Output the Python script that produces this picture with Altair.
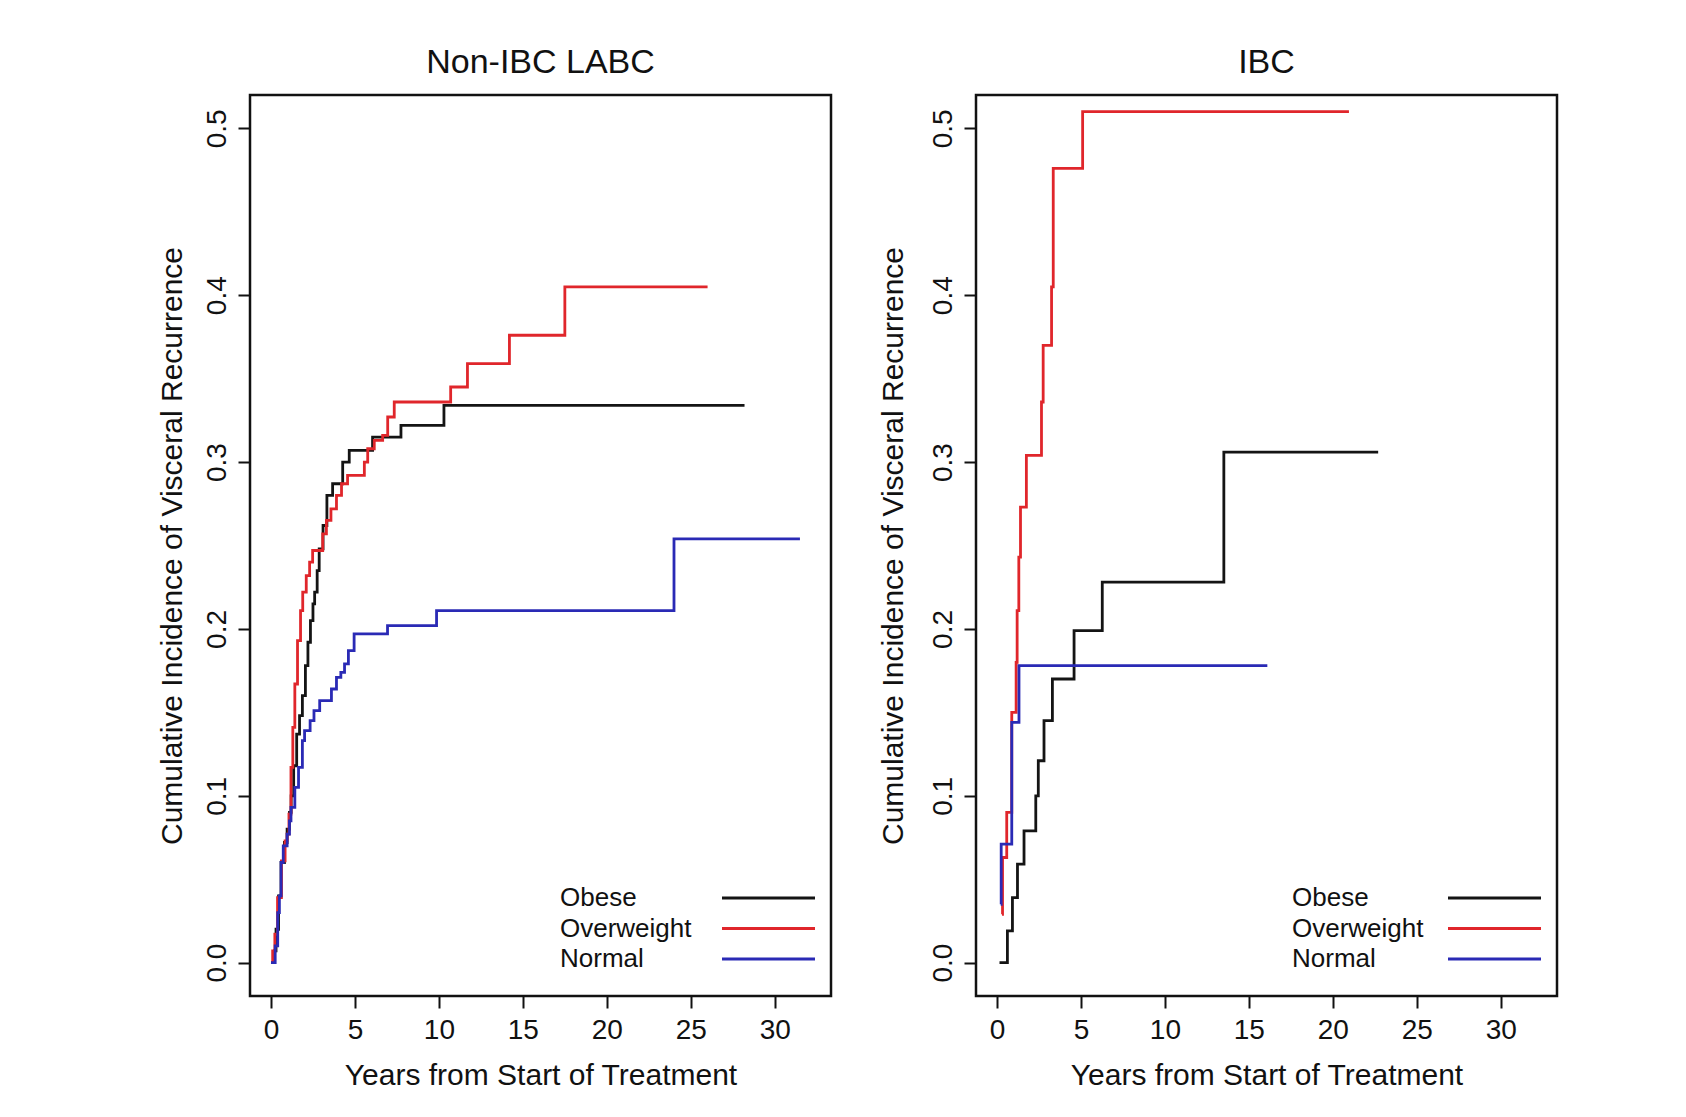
import altair as alt
import pandas as pd

FONT = "Liberation Sans"
SERIES = ["Obese", "Overweight", "Normal"]
COLORS = ["#141414", "#e0262b", "#2a2ab5"]
X_TICKS = [0, 5, 10, 15, 20, 25, 30]
Y_TICKS = [0.0, 0.1, 0.2, 0.3, 0.4, 0.5]
PANEL_TITLES = ["Non-IBC LABC", "IBC"]

# ---- Non-IBC LABC ----
labc_obese_t = [0, 0.2, 0.3, 0.45, 0.6, 0.8, 0.96, 1.1, 1.2, 1.35, 1.53, 1.7, 1.87, 2.05, 2.2, 2.35,
                2.5, 2.6, 2.75, 2.87, 3.1, 3.33, 3.67, 4.27, 4.66, 6.05, 7.74, 10.3, 28.2]
labc_obese_v = [0, 0.007, 0.02, 0.04, 0.06, 0.072, 0.08, 0.09, 0.1, 0.118, 0.137, 0.148, 0.16, 0.178,
                0.192, 0.205, 0.215, 0.222, 0.235, 0.248, 0.262, 0.28, 0.287, 0.300, 0.307, 0.315,
                0.322, 0.334, 0.334]

labc_over_t = [0, 0.1, 0.23, 0.39, 0.62, 0.84, 0.96, 1.07, 1.19, 1.3, 1.42, 1.58, 1.76, 1.89, 2.1, 2.3,
               2.48, 3.08, 3.3, 3.57, 3.9, 4.2, 4.56, 5.56, 5.76, 6.15, 6.65, 6.95, 7.34, 10.7, 11.7,
               14.2, 17.5, 26.0]
labc_over_v = [0, 0.007, 0.017, 0.039, 0.061, 0.073, 0.077, 0.089, 0.117, 0.141, 0.167, 0.193, 0.211,
               0.222, 0.232, 0.24, 0.247, 0.257, 0.265, 0.272, 0.28, 0.287, 0.292, 0.30, 0.308, 0.313,
               0.316, 0.327, 0.336, 0.345, 0.359, 0.376, 0.405, 0.405]

labc_norm_t = [0, 0.25, 0.4, 0.5, 0.6, 0.73, 0.96, 1.1, 1.19, 1.42, 1.64, 1.87, 2.0, 2.33, 2.56, 2.9,
               3.6, 3.9, 4.16, 4.38, 4.61, 4.95, 6.94, 9.86, 24.0, 31.5]
labc_norm_v = [0, 0.01, 0.03, 0.04, 0.06, 0.07, 0.077, 0.085, 0.093, 0.105, 0.117, 0.133, 0.139, 0.145,
               0.151, 0.157, 0.164, 0.171, 0.174, 0.179, 0.187, 0.197, 0.202, 0.211, 0.254, 0.254]

# ---- IBC ----
ibc_obese_t = [0.15, 0.62, 0.92, 1.22, 1.61, 2.31, 2.46, 2.80, 3.30, 4.59, 6.27, 13.51, 22.7]
ibc_obese_v = [0, 0.019, 0.039, 0.059, 0.079, 0.1, 0.121, 0.145, 0.170, 0.199, 0.228, 0.306, 0.306]

ibc_over_t = [0.3, 0.33, 0.58, 0.88, 1.14, 1.2, 1.3, 1.4, 1.75, 2.65, 2.75, 3.25, 3.35, 5.1, 20.96]
ibc_over_v = [0.029, 0.063, 0.09, 0.15, 0.18, 0.211, 0.243, 0.273, 0.304, 0.336, 0.37, 0.405, 0.476,
              0.51, 0.51]

ibc_norm_t = [0.22, 0.25, 0.88, 1.31, 16.1]
ibc_norm_v = [0.035, 0.071, 0.144, 0.178, 0.178]

W, H = 581, 901
color_scale = alt.Scale(domain=SERIES, range=COLORS)


def panel(title, curves, title_x, leg_x):
    frames = [pd.DataFrame({"t": t, "v": v, "group": g}) for g, t, v in curves]
    df = pd.concat(frames, ignore_index=True)

    lines = alt.Chart(df).mark_line(interpolate="step-after", strokeWidth=2.8).encode(
        x=alt.X("t:Q",
                scale=alt.Scale(domain=[-1.25, 33.35], nice=False, zero=False),
                axis=alt.Axis(values=X_TICKS, title="Years from Start of Treatment",
                              domain=False, grid=False, tickSize=12, tickWidth=2,
                              tickColor="#111", labelFontSize=28, labelPadding=8,
                              labelColor="#111", labelFont=FONT, titleFont=FONT,
                              titleFontSize=30, titleFontWeight="normal", titleColor="#111",
                              titleX=W / 2, titleY=88, titleBaseline="alphabetic",
                              titleAlign="center")),
        y=alt.Y("v:Q",
                scale=alt.Scale(domain=[-0.02, 0.52], nice=False, zero=False),
                axis=alt.Axis(values=Y_TICKS, format=".1f",
                              title="Cumulative Incidence of Visceral Recurrence",
                              domain=False, grid=False, tickSize=12, tickWidth=2,
                              tickColor="#111", labelFontSize=28, labelPadding=13,
                              labelAngle=270, labelAlign="center", labelBaseline="alphabetic",
                              labelColor="#111", labelFont=FONT, titleFont=FONT,
                              titleFontSize=30, titleFontWeight="normal", titleColor="#111",
                              titleAngle=270, titleX=title_x, titleY=H / 2,
                              titleBaseline="alphabetic", titleAlign="center")),
        color=alt.Color("group:N", scale=color_scale, legend=None),
        detail="group:N",
    )

    head = alt.Chart(pd.DataFrame({"name": [title]})).mark_text(
        align="center", baseline="alphabetic", fontSize=34, font=FONT, color="#111"
    ).encode(x=alt.value(W / 2), y=alt.value(-22), text="name:N")

    leg = pd.DataFrame({"group": SERIES, "i": list(range(len(SERIES)))})
    base = alt.Chart(leg).transform_calculate(py="803 + 30.5 * datum.i")
    leg_text = base.mark_text(align="left", baseline="middle", fontSize=26, font=FONT,
                              color="#111").encode(
        x=alt.value(leg_x),
        y=alt.Y("py:Q", scale=None, axis=None),
        text="group:N",
    )
    leg_rule = base.mark_rule(strokeWidth=3).encode(
        x=alt.value(472), x2=alt.value(565),
        y=alt.Y("py:Q", scale=None, axis=None),
        color=alt.Color("group:N", scale=color_scale, legend=None),
    )

    return alt.layer(lines, head, leg_text, leg_rule).properties(width=W, height=H)


left = panel(PANEL_TITLES[0], [("Obese", labc_obese_t, labc_obese_v),
                               ("Overweight", labc_over_t, labc_over_v),
                               ("Normal", labc_norm_t, labc_norm_v)], -69, 310)
right = panel(PANEL_TITLES[1], [("Obese", ibc_obese_t, ibc_obese_v),
                                ("Overweight", ibc_over_t, ibc_over_v),
                                ("Normal", ibc_norm_t, ibc_norm_v)], -74, 316)

chart = alt.hconcat(left, right, spacing=43).properties(
    padding={"left": 147, "top": 36, "right": 10, "bottom": 10},
    background="white",
).configure_view(stroke="#111", strokeWidth=2.5)

chart.save("out.html", embed_options={"renderer": "svg", "actions": False})
